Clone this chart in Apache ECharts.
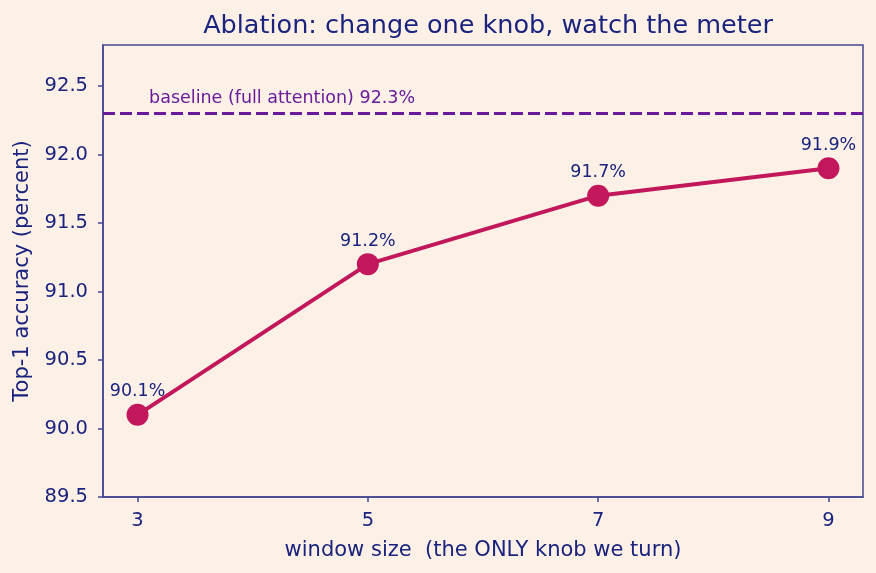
<!DOCTYPE html>
<html>
<head>
<meta charset="utf-8">
<script src="https://cdn.jsdelivr.net/npm/echarts@6/dist/echarts.min.js"></script>
<style>
  html, body { margin: 0; padding: 0; background: #fdf1e7; }
  #chart { width: 876px; height: 573px; }
</style>
</head>
<body>
<div id="chart"></div>
<script>
const windowSizes = [3, 5, 7, 9]
const accuracy = [90.1, 91.2, 91.7, 91.9]
const baseline = 92.3
const xTicks = [3, 5, 7, 9]
const yTicks = [89.5, 90.0, 90.5, 91.0, 91.5, 92.0, 92.5]

const navy = '#1a237e'
const frame = '#434790'
const font = 'DejaVu Sans'

const chart = echarts.init(document.getElementById('chart'))
const option = {
  backgroundColor: '#fdf1e7',
  textStyle: { fontFamily: font, color: navy },
  title: {
    text: 'Ablation: change one knob, watch the meter',
    left: 483,
    textAlign: 'center',
    top: 8,
    textStyle: { fontFamily: font, fontSize: 25.5, fontWeight: 'normal', color: navy },
  },
  grid: {
    left: 103,
    right: 13,
    top: 45,
    bottom: 76,
    show: true,
    borderColor: frame,
    borderWidth: 1.5,
    backgroundColor: 'transparent',
  },
  xAxis: {
    type: 'value',
    min: 2.7,
    max: 9.3,
    name: 'window size  (the ONLY knob we turn)',
    nameLocation: 'middle',
    nameGap: 43,
    nameTextStyle: { fontSize: 21, color: navy, fontFamily: font },
    axisLine: { show: true, lineStyle: { color: frame, width: 1.5 } },
    axisTick: { show: true, customValues: xTicks, length: 5, lineStyle: { color: frame, width: 1.5 } },
    axisLabel: { customValues: xTicks, fontSize: 19.5, color: navy, margin: 14, fontFamily: font },
    splitLine: { show: false },
  },
  yAxis: {
    type: 'value',
    min: 89.5,
    max: 92.8,
    name: 'Top-1 accuracy (percent)',
    nameLocation: 'middle',
    nameGap: 70,
    nameTextStyle: { fontSize: 21, color: navy, fontFamily: font },
    axisLine: { show: true, lineStyle: { color: frame, width: 1.5 } },
    axisTick: { show: true, customValues: yTicks, length: 5, lineStyle: { color: frame, width: 1.5 } },
    axisLabel: {
      customValues: yTicks,
      fontSize: 19.5,
      color: navy,
      margin: 15,
      fontFamily: font,
      formatter: v => v.toFixed(1),
    },
    splitLine: { show: false },
  },
  series: [
    {
      type: 'line',
      data: windowSizes.map((x, i) => [x, accuracy[i]]),
      symbol: 'circle',
      symbolSize: 22,
      lineStyle: { color: '#c2185b', width: 4 },
      itemStyle: { color: '#c2185b' },
      label: {
        show: true,
        position: 'top',
        distance: 3,
        fontSize: 17.5,
        color: navy,
        fontFamily: font,
        formatter: p => p.data[1].toFixed(1) + '%',
      },
      markLine: {
        silent: true,
        symbol: ['none', 'none'],
        lineStyle: { color: '#6a1b9a', type: [12, 5], width: 3 },
        label: { show: false },
        data: [{ yAxis: baseline }],
      },
      markPoint: {
        silent: true,
        symbol: 'circle',
        symbolSize: 0,
        data: [{ coord: [3.1, baseline] }],
        label: {
          show: true,
          position: 'inside',
          align: 'left',
          verticalAlign: 'bottom',
          offset: [0, -6],
          fontSize: 17.5,
          color: '#6a1b9a',
          fontFamily: font,
          formatter: () => 'baseline (full attention) ' + baseline + '%',
        },
      },
      z: 3,
    },
  ],
}
chart.setOption(option)
</script>
</body>
</html>
